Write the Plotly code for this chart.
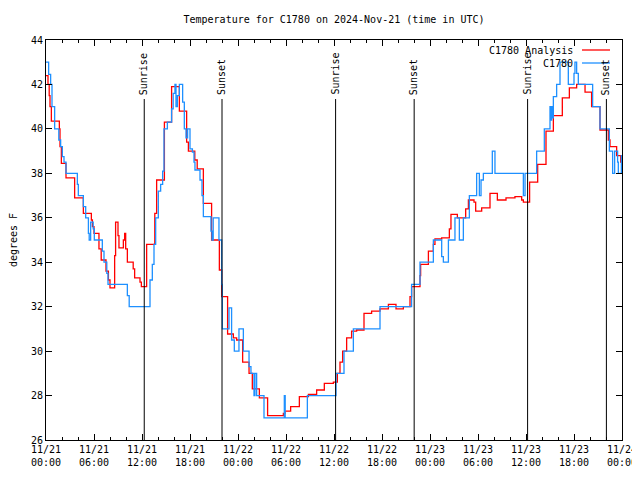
import pandas as pd
import plotly.graph_objects as go

# ---------------- data (hours after 2024-11-21 00:00 UTC, deg F) ----------------
analysis_hours = [0.0, 0.25, 0.4, 0.5, 0.67, 1.67, 1.75, 1.92, 2.5, 3.58, 4.67, 5.67, 5.8, 6.0,
                  6.62, 6.9, 7.5, 7.8, 8.0, 8.58, 8.7, 9.0, 9.12, 9.67, 9.83, 9.96, 10.17, 10.9,
                  11.08, 11.75, 11.92, 12.58, 13.6, 13.83, 14.8, 15.7, 16.67, 17.58, 17.8, 18.6,
                  18.9, 19.67, 20.7, 21.67, 21.96, 22.7, 23.42, 23.83, 24.58, 25.38, 25.79,
                  26.67, 27.7, 29.67, 29.88, 30.58, 31.67, 32.8, 33.83, 34.79, 35.92, 36.42,
                  36.75, 37.08, 37.58, 38.2, 38.83, 39.75, 40.7, 41.75, 42.8, 43.75, 44.67,
                  45.5, 45.7, 46.75, 46.83, 47.8, 48.42, 48.62, 49.46, 50.42, 50.62, 51.42,
                  52.46, 52.8, 53.5, 53.71, 54.46, 55.5, 56.42, 57.5, 58.62, 59.46, 59.67,
                  60.45, 61.46, 62.5, 63.42, 64.54, 65.42, 66.33, 67.38, 68.2, 69.25, 70.29,
                  70.5, 71.33, 71.83, 72.0]
analysis_temps = [42.4, 42.0, 41.5, 41.0, 40.35, 40.0, 39.2, 38.45, 37.8, 36.9, 36.2, 35.9, 35.6, 35.3,
                  34.6, 34.1, 33.6, 33.2, 32.85, 34.3, 35.8, 35.2, 34.65, 35.0, 35.3, 34.6, 34.0, 33.7,
                  33.3, 33.1, 32.9, 34.8, 36.2, 37.7, 40.3, 41.9, 40.8, 39.4, 39.0, 38.6,
                  38.2, 36.65, 35.0, 33.65, 32.45, 30.77, 30.6, 30.5, 29.5, 29.0, 28.3,
                  27.9, 27.1, 27.2, 27.3, 27.5, 27.95, 28.05, 28.25, 28.55, 28.6, 29.0,
                  29.5, 30.0, 30.6, 30.9, 30.95, 31.7, 31.8, 31.9, 32.1, 31.9, 32.0,
                  32.45, 32.9, 33.4, 33.9, 34.5, 34.8, 35.05, 35.1, 35.5, 36.15, 36.0,
                  36.4, 36.8, 36.7, 36.3, 36.45, 37.1, 36.8, 36.9, 36.95, 36.8, 36.7,
                  37.6, 38.4, 39.9, 40.6, 41.4, 41.85, 42.0, 41.65, 41.0, 39.95, 39.5,
                  39.2, 38.8, 38.5, 38.5]

obs_hours = [0.0, 0.33, 0.58, 0.75, 1.08, 1.6, 1.83, 2.04, 2.25, 2.5, 3.92, 4.04, 4.67, 4.96,
             5.3, 5.4, 5.58, 5.9, 6.04, 7.04, 7.25, 7.6, 7.75, 10.17, 10.4, 13.0, 13.29, 13.5,
             13.71, 14.04, 14.33, 14.58, 14.75, 15.17, 15.7, 15.9, 16.12, 16.25, 16.42, 16.67,
             17.08, 17.29, 17.5, 17.7, 18.0, 18.3, 18.5, 18.62, 19.25, 19.5, 19.67, 20.62,
             20.75, 20.9, 21.62, 21.96, 22.04, 22.875, 23.2, 23.54, 24.12, 24.67, 25.38,
             25.62, 26.0, 26.12, 26.33, 27.25, 29.79, 29.9, 32.67, 36.25, 37.25, 38.42,
             41.75, 45.7, 46.75, 48.42, 49.46, 49.67, 50.3, 51.12, 51.67, 52.17, 52.92,
             53.83, 54.17, 54.38, 54.67, 55.79, 56.12, 59.67, 59.88, 61.33, 62.29, 63.0,
             63.1, 63.21, 63.3, 63.42, 63.83, 64.25, 65.29, 66.0, 66.12, 66.33, 66.54,
             68.33, 69.25, 70.42, 70.83, 71.08, 71.45, 71.54, 71.92, 72.0]
obs_temps = [43.0, 42.45, 42.0, 41.0, 40.0, 39.5, 39.2, 38.75, 38.5, 38.0, 37.5, 37.0, 36.5, 36.0,
             35.3, 35.0, 35.8, 35.5, 35.0, 34.5, 34.0, 33.5, 33.0, 32.5, 32.0, 33.2, 33.9, 34.8,
             36.0, 37.2, 37.5, 38.1, 40.0, 40.3, 40.9, 41.6, 42.0, 41.0, 41.5, 42.0,
             41.2, 40.0, 39.6, 40.0, 39.1, 38.95, 38.5, 38.15, 37.7, 37.0, 36.05, 35.4,
             35.0, 36.0, 35.0, 33.0, 31.0, 31.95, 30.5, 30.0, 31.0, 30.0, 29.3,
             29.0, 28.0, 29.0, 28.0, 27.0, 28.0, 27.0, 28.0, 29.0, 30.0, 31.0,
             32.0, 33.0, 34.0, 35.0, 34.25, 34.0, 35.0, 36.0, 35.0, 36.0, 37.0,
             38.0, 37.0, 37.7, 38.0, 39.0, 38.0, 37.0, 38.0, 39.0, 40.0, 41.0,
             40.4, 41.0, 40.5, 41.45, 42.0, 43.0, 42.0, 42.5, 43.0, 42.5, 42.0,
             41.0, 40.0, 39.0, 38.0, 39.0, 38.5, 38.0, 38.8, 38.8]

sunrise_hours = [12.28, 36.2, 60.2]
sunset_hours = [22.0, 46.02, 70.05]

y_range = [26, 44]
start = pd.Timestamp("2024-11-21 00:00")
end = pd.Timestamp("2024-11-24 00:00")

def to_time(hours):
    return [start + pd.Timedelta(hours=h) for h in hours]

tick_times = list(pd.date_range(start, end, freq="6h"))
tick_labels = [t.strftime("%m/%d") + "<br>" + t.strftime("%H:%M") for t in tick_times]

FONT = "DejaVu Sans Mono"
RED = "#ff0000"
BLUE = "#1e90ff"

# page body has an 8px default margin; size the figure so the plot lands where the
# reference has it and the page does not overflow the 640x480 window
W, H = 632, 464
ML, MT, MR, MB = 38, 32, 18, 32

fig = go.Figure()
fig.add_trace(go.Scatter(x=to_time(analysis_hours), y=analysis_temps, mode="lines",
                         line=dict(color=RED, width=1.3, shape="hv"), name="C1780 Analysis"))
fig.add_trace(go.Scatter(x=to_time(obs_hours), y=obs_temps, mode="lines",
                         line=dict(color=BLUE, width=1.3, shape="hv"), name="C1780"))

# sunrise / sunset markers
for label, hrs in (("Sunrise", sunrise_hours), ("Sunset", sunset_hours)):
    for t in to_time(hrs):
        fig.add_shape(type="line", xref="x", yref="paper", x0=t, x1=t, y0=0, y1=0.8525,
                      line=dict(color="black", width=1))
        fig.add_annotation(x=t, xref="x", y=0.8575, yref="paper", text=label, textangle=-90,
                           showarrow=False, xanchor="center", yanchor="bottom",
                           font=dict(family=FONT, size=10, color="black"))

# gnuplot-style legend: text on the left, line sample on the right
legend_items = [("C1780 Analysis", RED), ("C1780", BLUE)]
for i, (name, col) in enumerate(legend_items):
    ypx = 50 + 13 * i
    yp = (440 - ypx) / 400
    fig.add_annotation(x=(575 - 46) / 576, xref="paper", y=yp, yref="paper", text=name,
                       showarrow=False, xanchor="right", yanchor="middle",
                       font=dict(family=FONT, size=10, color="black"))
    fig.add_shape(type="line", xref="paper", yref="paper", x0=(582 - 46) / 576,
                  x1=(610 - 46) / 576, y0=yp, y1=yp, line=dict(color=col, width=1.3))

fig.update_layout(
    width=W, height=H,
    margin=dict(l=ML, r=MR, t=MT, b=MB),
    paper_bgcolor="white", plot_bgcolor="white",
    showlegend=False,
    font=dict(family=FONT, size=10, color="black"),
    title=dict(text="Temperature for C1780 on 2024-Nov-21 (time in UTC)",
               x=0.5, xref="paper", xanchor="center",
               y=1 - 11 / H, yref="container", yanchor="middle",
               font=dict(family=FONT, size=10, color="black")),
)
fig.update_xaxes(range=[start, end], tickvals=tick_times, ticktext=tick_labels, automargin=False,
                 ticklabeloverflow="allow",
                 showgrid=False, zeroline=False, showline=True, linecolor="black", linewidth=1,
                 mirror="ticks", ticks="inside", ticklen=6, tickcolor="black",
                 minor=dict(dtick=2 * 3600 * 1000, ticks="inside", ticklen=3, tickcolor="black",
                            showgrid=False),
                 tickfont=dict(family=FONT, size=10, color="black"))
fig.update_yaxes(range=y_range, dtick=2, tick0=26, automargin=False,
                 showgrid=False, zeroline=False, showline=True, linecolor="black", linewidth=1,
                 mirror="ticks", ticks="inside", ticklen=6, tickcolor="black",
                 tickfont=dict(family=FONT, size=10, color="black"),
                 title=dict(text="degrees F", standoff=17,
                            font=dict(family=FONT, size=10, color="black")))

fig.write_html("out.html")
